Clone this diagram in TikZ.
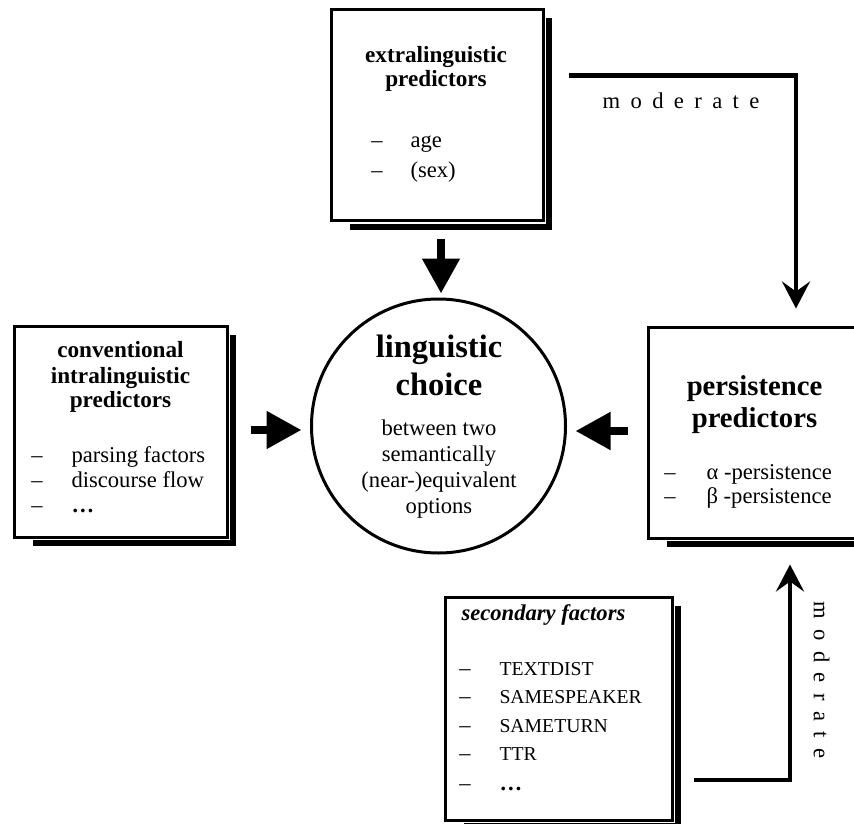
\documentclass[tikz,border=0pt]{standalone}
\usepackage{fontspec}
\setmainfont{Liberation Serif}
\newfontfamily\spacedfont[LetterSpace=46]{Liberation Serif}
\usetikzlibrary{arrows.meta,calc}

\newcommand{\boxshadow}[1]{%
  \draw[line width=6pt] ($(#1.south west)+(20,4.5)$) -| ($(#1.north east)+(4.5,10)$);}

\begin{document}
\begin{tikzpicture}[x=1pt,y=-1pt]
	\tikzset{
		box/.style={draw,rectangle,line width=3pt,inner sep=0pt},
		fatarrow/.style={line width=8pt,-{Triangle[length=35pt,width=36pt]}},
		modarrow/.style={line width=4.5pt,-{Stealth[length=27pt,width=28pt,inset=10pt]}},
		head/.style={anchor=base,font=\fontsize{23.2}{27}\selectfont\bfseries},
		bighead/.style={anchor=base,font=\fontsize{28.7}{33}\selectfont\bfseries},
		body/.style={anchor=base,font=\fontsize{22.6}{26}\selectfont},
		item/.style={anchor=base west,font=\fontsize{22.6}{26}\selectfont},
		capitem/.style={anchor=base west,font=\fontsize{19.7}{26}\selectfont},
		moderate/.style={inner sep=0pt,font=\fontsize{22.6}{26}\spacedfont},
	}
	\useasboundingbox (0,0) rectangle (854,824);

	% boxes and circle
	\node (extra) at (437,115) [box,minimum width=212pt,minimum height=211pt] {};
	\node (conv) at (120.5,431.5) [box,minimum width=213pt,minimum height=211pt] {};
	\node (pers) at (754.5,432.5) [box,minimum width=213pt,minimum height=211pt] {};
	\node (sec) at (558.5,708.5) [box,minimum width=227pt,minimum height=223pt] {};
	\node (choice) at (438.5,426) [draw,circle,line width=3pt,minimum size=254pt,inner sep=0pt] {};
	\boxshadow{extra}
	\boxshadow{conv}
	\boxshadow{pers}
	\boxshadow{sec}

	% extralinguistic predictors
	\node (extra-h1) at (436,63) [head] {extralinguistic};
	\node (extra-h2) at (436,87) [head] {predictors};
	\node (extra-d1) at (377,147) [body] {–};
	\node (extra-d2) at (377,177) [body] {–};
	\node (extra-i1) at (407,147) [item] {age};
	\node (extra-i2) at (407,177) [item] {(sex)};

	% conventional intralinguistic predictors
	\node (conv-h1) at (120.5,357) [head] {conventional};
	\node (conv-h2) at (120.5,383) [head] {intralinguistic};
	\node (conv-h3) at (120.5,407) [head] {predictors};
	\foreach \y [count=\i] in {462,487,512}
		\node (conv-d\i) at (37,\y) [body] {–};
	\node (conv-i1) at (68,462) [item] {parsing factors};
	\node (conv-i2) at (68,487) [item] {discourse flow};
	\node (conv-i3) at (68,512) [item] {\bfseries …};

	% persistence predictors
	\node (pers-h1) at (754.5,395) [bighead] {persistence};
	\node (pers-h2) at (754.5,427) [bighead] {predictors};
	\node (pers-d1) at (670,479) [body] {–};
	\node (pers-d2) at (670,503) [body] {–};
	\node (pers-i1) at (703,479) [item] {α -persistence};
	\node (pers-i2) at (703,503) [item] {β -persistence};

	% linguistic choice
	\node (choice-h1) at (439,357) [anchor=base,font=\fontsize{32.5}{38}\selectfont\bfseries] {linguistic};
	\node (choice-h2) at (439,395) [anchor=base,font=\fontsize{32.5}{38}\selectfont\bfseries] {choice};
	\node (choice-t1) at (439,435) [body] {between two};
	\node (choice-t2) at (439,461) [body] {semantically};
	\node (choice-t3) at (439,487) [body] {(near-)equivalent};
	\node (choice-t4) at (439,513) [body] {options};

	% secondary factors
	\node (sec-h) at (458,620) [item,font=\fontsize{22.6}{26}\selectfont\bfseries\itshape] {secondary factors};
	\foreach \y [count=\i] in {675,703,732,760,790}
		\node (sec-d\i) at (465,\y) [body] {–};
	\node (sec-i1) at (496,675) [capitem] {TEXTDIST};
	\node (sec-i2) at (496,703) [capitem] {SAMESPEAKER};
	\node (sec-i3) at (496,732) [capitem] {SAMETURN};
	\node (sec-i4) at (496,760) [capitem] {TTR};
	\node (sec-i5) at (496,790) [item] {\bfseries …};

	% moderate labels
	\node (mod-top) at (681,109) [moderate,anchor=base] {moderate};
	\node (mod-right) at (821.5,680) [moderate,rotate=-90] {moderate};

	% arrows
	\draw[fatarrow] ([xshift=4pt,yshift=-16.5pt]extra.south) -- ([xshift=2.5pt,yshift=4pt]choice.north);
	\draw[fatarrow] ([xshift=22pt,yshift=1.5pt]conv.east) -- ([xshift=-8.5pt,yshift=-4pt]choice.west);
	\draw[fatarrow] ([xshift=-19pt,yshift=1.5pt]pers.west) -- ([xshift=8.5pt,yshift=-5pt]choice.east);
	\draw[modarrow] ([xshift=24pt,yshift=39.5pt]extra.east) -| ([xshift=41.5pt,yshift=17pt]pers.north);
	\draw[modarrow] ([xshift=20pt,yshift=-71.5pt]sec.east) -| ([xshift=35.5pt,yshift=-25pt]pers.south);
\end{tikzpicture}
\end{document}
